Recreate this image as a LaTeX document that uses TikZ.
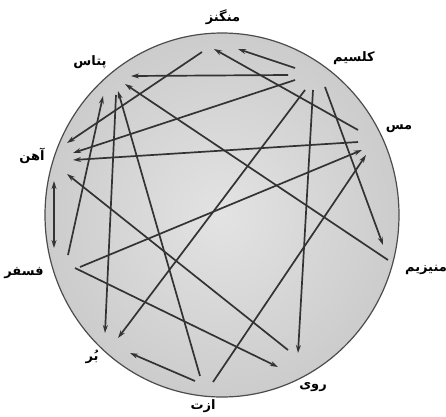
\documentclass[tikz,border=0pt]{standalone}
\usepackage{fontspec}
\newfontfamily\arabicfont[Script=Arabic]{DejaVu Sans}
\TeXXeTstate=1
\usetikzlibrary{arrows.meta}

\begin{document}
\begin{tikzpicture}[x=1pt,y=-1pt,>={Stealth[length=8pt,width=5pt]},
  elem/.style={font=\arabicfont\bfseries\fontsize{13}{15}\selectfont},
  link/.style={draw=black!80,line width=1.7pt}]
\useasboundingbox (0,0) rectangle (446,416);
\shade[inner color=black!11,outer color=black!20] (222,215) ellipse [x radius=177,y radius=182];
\draw[black!70,line width=1.2pt] (222,215) ellipse [x radius=177,y radius=182];

% element names
\node[elem] (mn) at (223,17) {\beginR منگنز\endR};
\node[elem] (ca) at (354,58) {\beginR کلسیم\endR};
\node[elem] (cu) at (399,129) {\beginR مس\endR};
\node[elem] (mg) at (426,270) {\beginR منیزیم\endR};
\node[elem] (zn) at (313,387) {\beginR روی\endR};
\node[elem] (n) at (203,406) {\beginR ازت\endR};
\node[elem] (b) at (92,357) {\beginR بُر\endR};
\node[elem] (p) at (24,273) {\beginR فسفر\endR};
\node[elem] (fe) at (32,156) {\beginR آهن\endR};
\node[elem] (k) at (90,62) {\beginR پتاس\endR};

% arrow ends
\coordinate (mn1) at (202,52);  \coordinate (fe1) at (67,143);
\coordinate (cu1) at (358,130); \coordinate (mn2) at (214,49);
\coordinate (ca1) at (295,68);  \coordinate (mn3) at (238,49);
\coordinate (ca2) at (288,75);  \coordinate (k1) at (131,76);
\coordinate (ca3) at (295,80);  \coordinate (fe2) at (73,153);
\coordinate (cu2) at (358,142); \coordinate (fe3) at (73,160);
\coordinate (p1) at (80,267);   \coordinate (cu3) at (362,150);
\coordinate (ca4) at (305,90);  \coordinate (b1) at (118,338);
\coordinate (ca5) at (313,90);  \coordinate (zn1) at (298,353);
\coordinate (ca6) at (325,87);  \coordinate (mg1) at (383,245);
\coordinate (mg2) at (388,260); \coordinate (k2) at (125,84);
\coordinate (k3) at (116,95);   \coordinate (b2) at (105,333);
\coordinate (p2) at (68,255);   \coordinate (k4) at (103,96);
\coordinate (n1) at (200,376);  \coordinate (k5) at (118,91);
\coordinate (zn2) at (288,350); \coordinate (fe4) at (67,174);
\coordinate (p3) at (75,268);   \coordinate (zn3) at (278,367);
\coordinate (n2) at (195,381);  \coordinate (b3) at (130,353);
\coordinate (n3) at (213,382);  \coordinate (cu4) at (366,155);
\coordinate (fe5) at (54,181);  \coordinate (p4) at (54,248);

\draw[link,->] (mn1) -- (fe1);
\draw[link,->] (cu1) -- (mn2);
\draw[link,->] (ca1) -- (mn3);
\draw[link,->] (ca2) -- (k1);
\draw[link,->] (ca3) -- (fe2);
\draw[link,->] (cu2) -- (fe3);
\draw[link,->] (p1) -- (cu3);
\draw[link,->] (ca4) -- (b1);
\draw[link,->] (ca5) -- (zn1);
\draw[link,->] (ca6) -- (mg1);
\draw[link,->] (mg2) -- (k2);
\draw[link,->] (k3) -- (b2);
\draw[link,->] (p2) -- (k4);
\draw[link,->] (n1) -- (k5);
\draw[link,->] (zn2) -- (fe4);
\draw[link,->] (p3) -- (zn3);
\draw[link,->] (n2) -- (b3);
\draw[link,->] (n3) -- (cu4);
\draw[link,<->] (fe5) -- (p4);
\end{tikzpicture}
\end{document}
